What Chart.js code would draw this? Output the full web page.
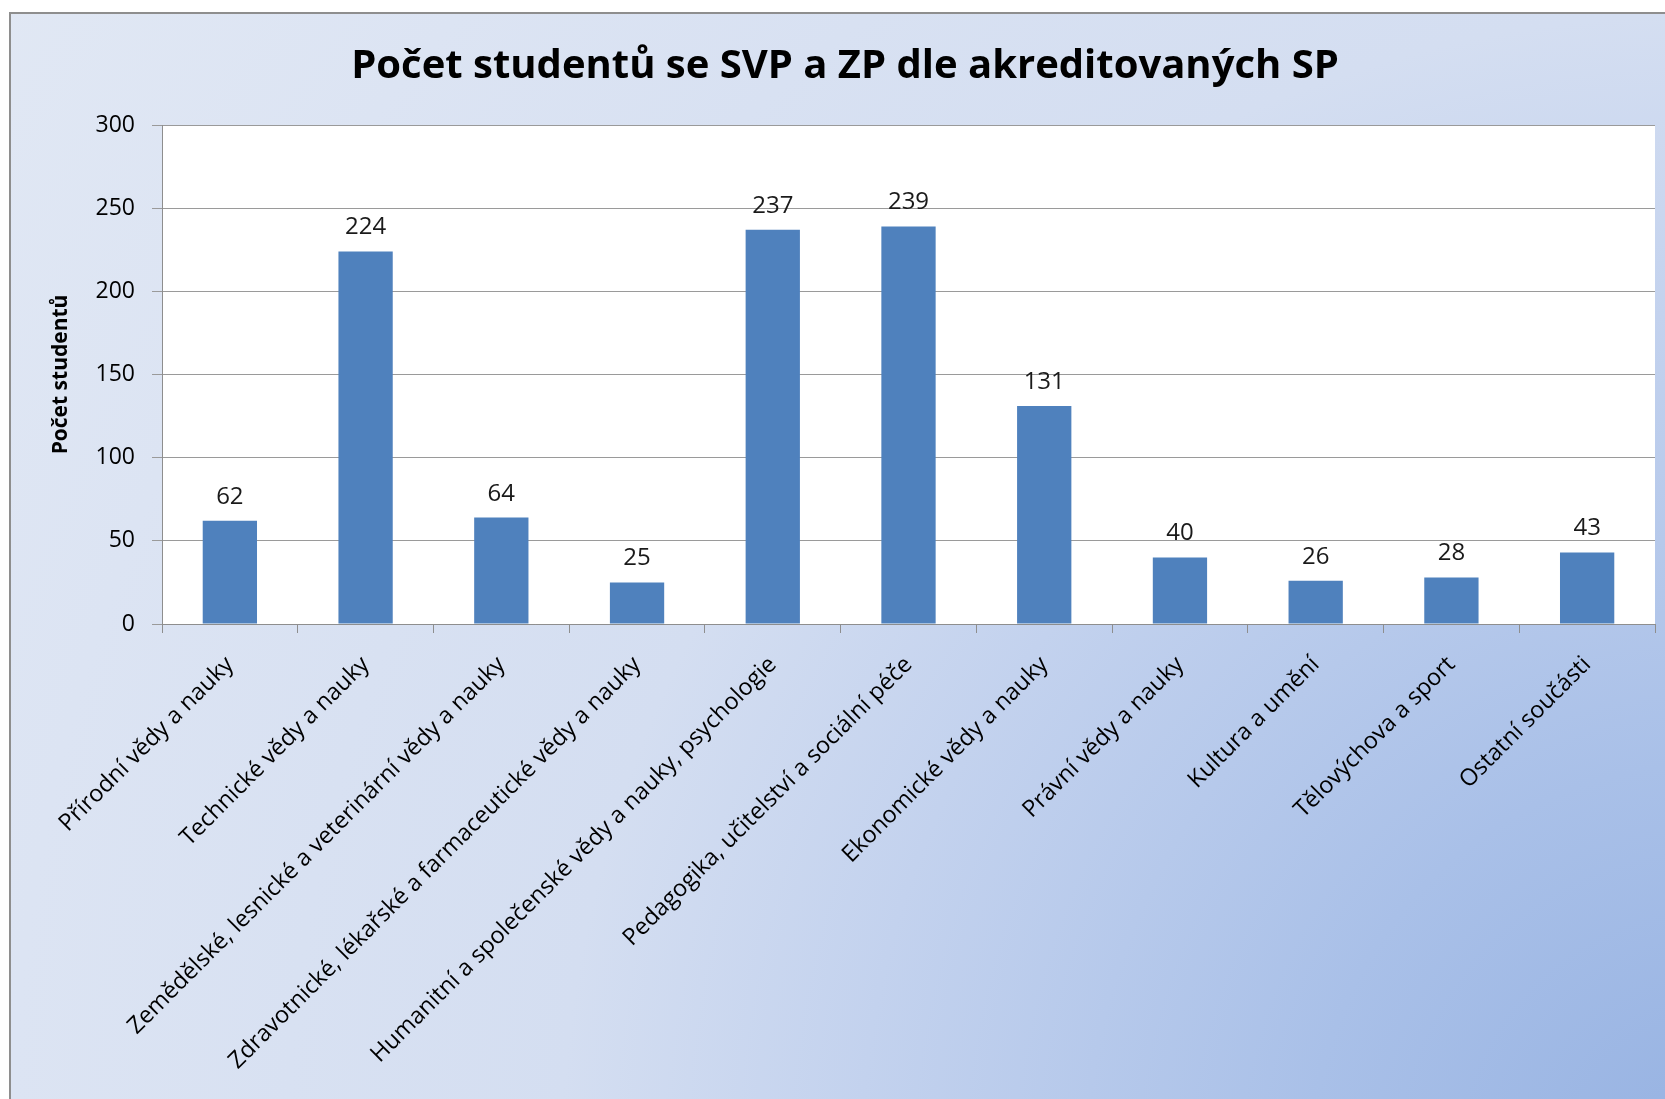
<!DOCTYPE html>
<html>
<head>
<meta charset="utf-8">
<script src="https://cdn.jsdelivr.net/npm/chart.js@4/dist/chart.umd.min.js"></script>
<style>
  html, body { margin: 0; padding: 0; background: #fff; overflow: hidden; }
  body { width: 1665px; height: 1099px; position: relative; }
  #box {
    position: absolute; left: 9px; top: 12px;
    width: 1700px; height: 1150px;
    border: 2px solid #8e8e8e;
    background: radial-gradient(circle at 1700px 1150px,
      #96b2e2 0px, #a9c0e8 400px, #c3d2ee 850px, #d4def1 1150px, #dce4f3 1700px, #e1e8f4 2100px);
  }
  canvas { display: block; }
</style>
</head>
<body>
<div id="box"><canvas id="chart" width="1700" height="1150"></canvas></div>
<script>
  const categories = [
    "Přírodní vědy a nauky",
    "Technické vědy a nauky",
    "Zemědělské, lesnické a veterinární vědy a nauky",
    "Zdravotnické, lékařské a farmaceutické vědy a nauky",
    "Humanitní a společenské vědy a nauky, psychologie",
    "Pedagogika, učitelství a sociální péče",
    "Ekonomické vědy a nauky",
    "Právní vědy a nauky",
    "Kultura a umění",
    "Tělovýchova a sport",
    "Ostatní součásti"
  ];
  const students = [62, 224, 64, 25, 237, 239, 131, 40, 26, 28, 43];
  const yTicks = [0, 50, 100, 150, 200, 250, 300];

  const FONT = "'Open Sans', sans-serif";

  // bila plocha grafu
  const plotBg = {
    id: "plotBg",
    beforeDraw(chart) {
      const {ctx, chartArea: a} = chart;
      ctx.save();
      ctx.fillStyle = "#ffffff";
      ctx.fillRect(a.left, a.top, a.right - a.left, a.bottom - a.top);
      ctx.restore();
    }
  };

  // hodnoty nad sloupci
  const valueLabels = {
    id: "valueLabels",
    afterDatasetsDraw(chart) {
      const {ctx} = chart;
      const meta = chart.getDatasetMeta(0);
      ctx.save();
      ctx.font = "24px " + FONT;
      ctx.fillStyle = "#1a1a1a";
      ctx.textAlign = "center";
      ctx.textBaseline = "alphabetic";
      meta.data.forEach((bar, i) => {
        ctx.fillText(String(students[i]), bar.x, bar.y - 17);
      });
      ctx.restore();
    }
  };

  new Chart(document.getElementById("chart"), {
    type: "bar",
    data: {
      labels: categories,
      datasets: [{
        data: students,
        backgroundColor: "#4f81bd",
        borderWidth: 0,
        barPercentage: 0.4,
        categoryPercentage: 1
      }]
    },
    options: {
      responsive: false,
      animation: false,
      layout: { padding: { left: 24, right: 56, top: 0, bottom: 0 } },
      plugins: {
        legend: { display: false },
        tooltip: { enabled: false },
        title: {
          display: true,
          text: "Počet studentů se SVP a ZP dle akreditovaných SP",
          color: "#000",
          font: { family: FONT, size: 40, weight: "bold", lineHeight: 1.2 },
          padding: { top: 29, bottom: 34 }
        }
      },
      scales: {
        x: {
          grid: { offset: true, drawOnChartArea: false, drawTicks: true, tickLength: 9, color: "#8e8e8e" },
          border: { color: "#8e8e8e", width: 1 },
          ticks: {
            color: "#000",
            font: { family: FONT, size: 23.4 },
            minRotation: 45, maxRotation: 45,
            autoSkip: false,
            padding: 18
          },
          afterFit(scale) { scale.height = 540; }
        },
        y: {
          min: 0, max: 300,
          afterBuildTicks(scale) { scale.ticks = yTicks.map(v => ({value: v})); },
          grid: { color: "#9a9a9a", tickLength: 10, drawTicks: true },
          border: { color: "#8e8e8e", width: 1 },
          ticks: {
            color: "#000",
            font: { family: FONT, size: 23 },
            padding: 17
          },
          title: {
            display: true,
            text: "Počet studentů",
            color: "#000",
            font: { family: FONT, size: 21, weight: "bold", lineHeight: 1.2 },
            padding: { top: 13, bottom: 0 }
          },
          afterFit(scale) { scale.width = 127; }
        }
      }
    },
    plugins: [plotBg, valueLabels]
  });
</script>
</body>
</html>
